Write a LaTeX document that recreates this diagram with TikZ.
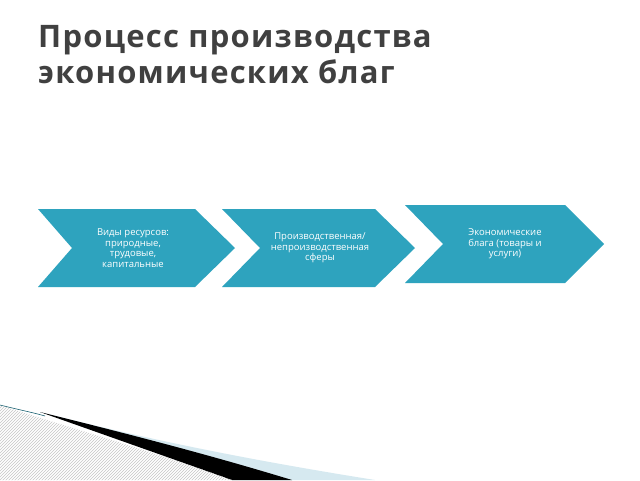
\documentclass[tikz,border=0pt]{standalone}
\usepackage{fontspec}
\setmainfont{Open Sans}
\usetikzlibrary{patterns}
\definecolor{teal}{HTML}{2EA3BE}
\definecolor{ttl}{HTML}{404040}
\definecolor{pale}{HTML}{D6E9F0}
\begin{document}
\begin{tikzpicture}[x=1pt,y=-1pt,
  chev/.style={fill=teal,draw=none},
  lbl/.style={text=white,font=\fontsize{9.5}{10.5}\selectfont,align=center}]
\useasboundingbox (0,0) rectangle (640,480);
\fill[white] (0,0) rectangle (640,480);
\node[anchor=north west,text=ttl,font=\fontsize{31}{36}\selectfont\bfseries\addfontfeatures{LetterSpace=4},align=left,inner sep=0] (title) at (38,25) {Процесс производства\\экономических благ};
% chevrons
\fill[chev] (38,209) -- (195,209) -- (235,248) -- (195,287) -- (38,287) -- (72,248) -- cycle;
\fill[chev] (222,209) -- (375,209) -- (415,248) -- (375,287) -- (222,287) -- (260,248) -- cycle;
\fill[chev] (405,205) -- (565,205) -- (604,244) -- (565,283) -- (405,283) -- (443,244) -- cycle;
\node[lbl] (a) at (133,248) {Виды ресурсов:\\природные,\\трудовые,\\капитальные};
\node[lbl] (b) at (320,248) {Производственная/\\непроизводственная\\сферы};
\node[lbl] (c) at (505,244) {Экономические\\блага (товары и\\услуги)};
% swoosh
\fill[pale] (40,412) .. controls (150,440) and (250,460) .. (375,480) -- (270,480) -- cycle;
\fill[black] (40,412) .. controls (120,432) and (200,452) .. (292,480) -- (232,480) -- cycle;
\fill[pattern=north east lines,pattern color=gray!45] (0,405) .. controls (60,425) and (150,450) .. (232,480) -- (0,480) -- cycle;
\draw[teal!60!black,line width=0.6] (0,405) .. controls (20,410) and (35,413) .. (45,416);
\end{tikzpicture}
\end{document}
